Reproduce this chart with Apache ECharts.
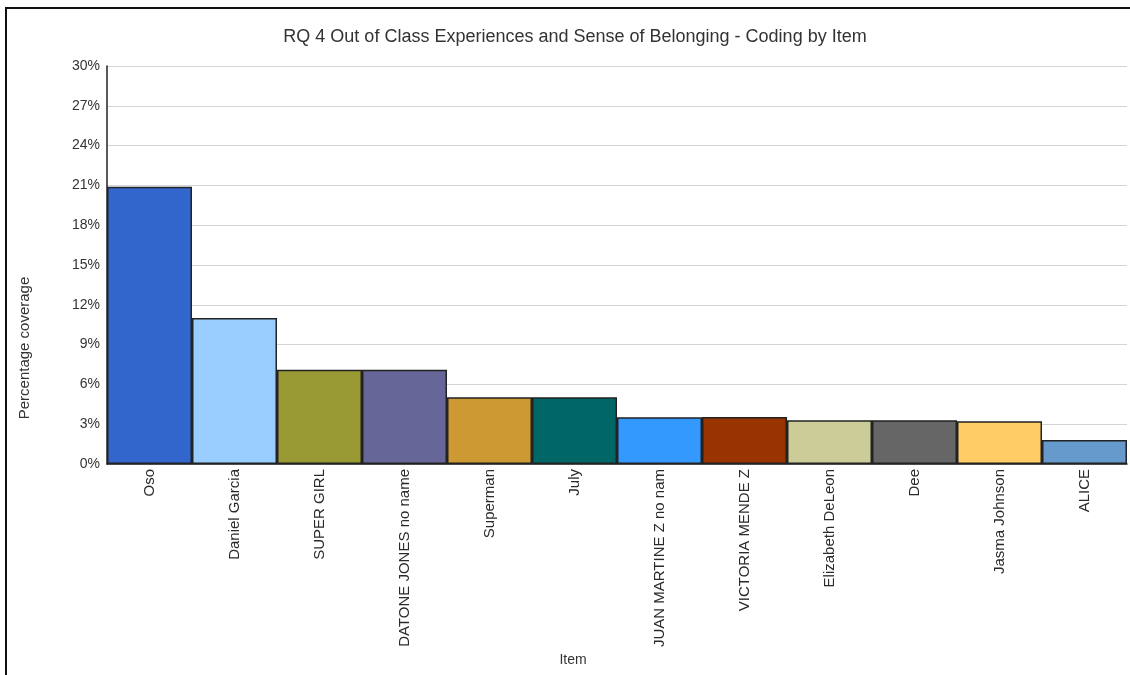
<!DOCTYPE html>
<html>
<head>
<meta charset="utf-8">
<script src="https://cdn.jsdelivr.net/npm/echarts@6/dist/echarts.min.js"></script>
<style>
html,body{margin:0;padding:0;background:#fff;}
#chart{width:1130px;height:675px;}
</style>
</head>
<body>
<div id="chart"></div>
<script>
var titleText = 'RQ 4 Out of Class Experiences and Sense of Belonging - Coding by Item';
var categories = ['Oso','Daniel Garcia','SUPER GIRL','DATONE JONES no name','Superman','July','JUAN MARTINE Z no nam','VICTORIA MENDE Z','Elizabeth DeLeon','Dee','Jasma Johnson','ALICE'];
var values = [20.9, 11.0, 7.1, 7.1, 5.03, 5.03, 3.52, 3.54, 3.29, 3.29, 3.22, 1.81];
var barColors = ['#3366CC','#99CCFF','#999933','#666699','#CC9933','#006666','#3399FF','#993300','#CCCC99','#666666','#FFCC66','#6699CC'];
var yAxisName = 'Percentage coverage';
var xAxisName = 'Item';

var chart = echarts.init(document.getElementById('chart'));
var font = 'Liberation Sans, Arial, sans-serif';
chart.setOption({
  animation: false,
  backgroundColor: '#fff',
  title: {
    text: titleText,
    left: 570, top: 23, textAlign: 'center',
    textStyle: {fontFamily: font, fontSize: 18, fontWeight: 'normal', color: '#333'}
  },
  grid: {left: 107, right: 3, top: 66, bottom: 211, containLabel: false},
  xAxis: {
    type: 'category',
    data: categories,
    axisLine: {show: true, lineStyle: {color: '#222', width: 1.5}},
    axisTick: {show: false},
    axisLabel: {rotate: 90, interval: 0, margin: 5, fontFamily: font, fontSize: 15, color: '#2a2a2a'}
  },
  yAxis: {
    type: 'value', min: 0, max: 30, interval: 3,
    axisLine: {show: true, lineStyle: {color: '#222', width: 1.5}},
    axisTick: {show: false},
    axisLabel: {formatter: '{value}%', margin: 7, fontFamily: font, fontSize: 14, color: '#333'},
    splitLine: {lineStyle: {color: '#d4d4d4', width: 1}}
  },
  series: [{
    type: 'bar',
    barCategoryGap: '0%',
    data: values.map(function(v, i){ return {value: v, itemStyle: {color: barColors[i]}}; }),
    itemStyle: {borderColor: '#222', borderWidth: 1.5}
  }],
  graphic: [
    {type: 'rect', shape: {x: 6, y: 8, width: 1200, height: 720}, style: {fill: 'none', stroke: '#111', lineWidth: 2}, silent: true},
    {type: 'text', x: 25, y: 348, rotation: Math.PI/2, style: {text: yAxisName, fontFamily: font, fontSize: 15, fill: '#333', align: 'center', verticalAlign: 'middle'}},
    {type: 'text', x: 573, y: 660, style: {text: xAxisName, fontFamily: font, fontSize: 14, fill: '#333', align: 'center', verticalAlign: 'middle'}}
  ]
});
</script>
</body>
</html>
